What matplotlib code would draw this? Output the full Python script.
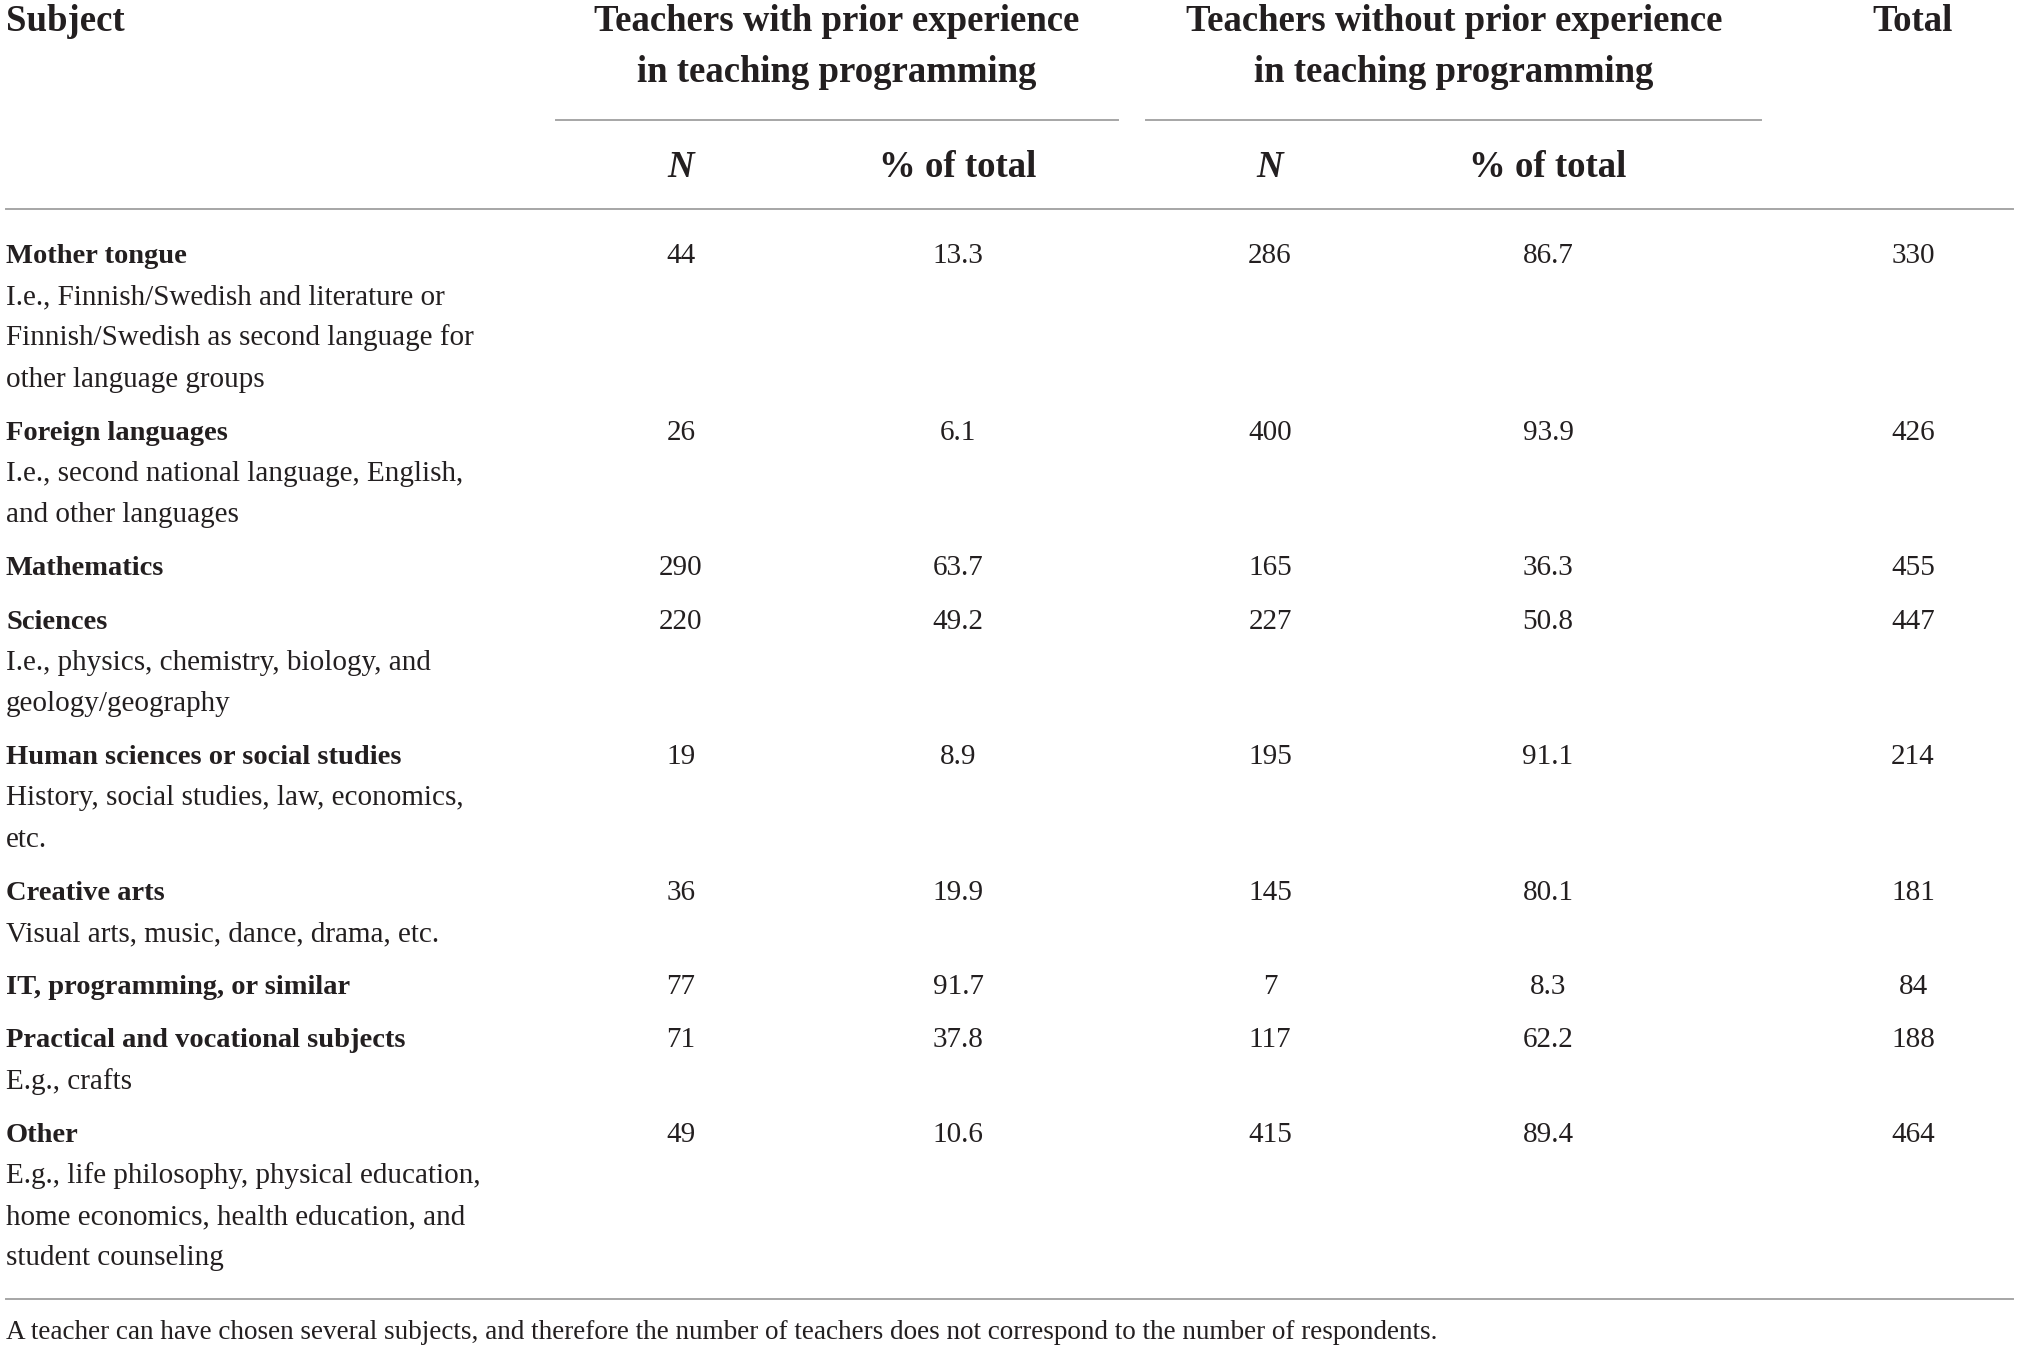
import matplotlib
matplotlib.use("Agg")
import matplotlib.pyplot as plt

plt.rcParams['font.family'] = ['Liberation Serif', 'DejaVu Serif']

# table content
subjects = ["Mother tongue", "Foreign languages", "Mathematics", "Sciences",
            "Human sciences or social studies", "Creative arts",
            "IT, programming, or similar", "Practical and vocational subjects", "Other"]
descriptions = [
    "I.e., Finnish/Swedish and literature or\nFinnish/Swedish as second language for\nother language groups",
    "I.e., second national language, English,\nand other languages",
    "",
    "I.e., physics, chemistry, biology, and\ngeology/geography",
    "History, social studies, law, economics,\netc.",
    "Visual arts, music, dance, drama, etc.",
    "",
    "E.g., crafts",
    "E.g., life philosophy, physical education,\nhome economics, health education, and\nstudent counseling",
]
n_with = [44, 26, 290, 220, 19, 36, 77, 71, 49]
pct_with = [13.3, 6.1, 63.7, 49.2, 8.9, 19.9, 91.7, 37.8, 10.6]
n_without = [286, 400, 165, 227, 195, 145, 7, 117, 415]
pct_without = [86.7, 93.9, 36.3, 50.8, 91.1, 80.1, 8.3, 62.2, 89.4]
totals = [330, 426, 455, 447, 214, 181, 84, 188, 464]

group_headers = ["Teachers with prior experience\nin teaching programming",
                 "Teachers without prior experience\nin teaching programming"]
footnote = ("A teacher can have chosen several subjects, and therefore the number "
            "of teachers does not correspond to the number of respondents.")

W, H = 2019, 1352
fig = plt.figure(figsize=(W / 100, H / 100), dpi=100)
ax = fig.add_axes([0, 0, 1, 1])
ax.set_xlim(0, W)
ax.set_ylim(H, 0)
ax.axis("off")

txt = "#231f20"
rule = "#a6a6a6"
body_b = 20.5   # bold subject names
body_r = 21     # regular text and numbers
head = 26.5

# column centres
col_n1, col_p1, col_n2, col_p2, col_tot = 681, 958, 1270, 1548, 1913
grp1, grp2 = 837, 1454

# header
ax.text(6, 31, "Subject", fontsize=head, fontweight="bold", color=txt, va="baseline")
for cx, h in zip([grp1, grp2], group_headers):
    for i, line in enumerate(h.split("\n")):
        ax.text(cx, 31 + i * 51.5, line, fontsize=head, fontweight="bold",
                color=txt, ha="center", va="baseline")
ax.text(col_tot, 31, "Total", fontsize=head, fontweight="bold", color=txt,
        ha="center", va="baseline")
ax.plot([556, 1118], [120, 120], color=rule, lw=1.4)
ax.plot([1146, 1761], [120, 120], color=rule, lw=1.4)
for cx in [col_n1, col_n2]:
    ax.text(cx, 177, "N", fontsize=head, fontweight="bold", fontstyle="italic",
            color=txt, ha="center", va="baseline")
for cx in [col_p1, col_p2]:
    ax.text(cx, 177, "% of total", fontsize=head, fontweight="bold",
            color=txt, ha="center", va="baseline")
ax.plot([6, 2013], [209, 209], color=rule, lw=1.4)

# body rows
lh = 41.2
y = 254
for k in range(len(subjects)):
    base = y + 9
    ax.text(6, base, subjects[k], fontsize=body_b, fontweight="bold", color=txt, va="baseline")
    desc = descriptions[k].split("\n") if descriptions[k] else []
    for j, line in enumerate(desc):
        ax.text(6, base + (j + 1) * lh, line, fontsize=body_r, color=txt, va="baseline")
    vals = [str(n_with[k]), f"{pct_with[k]:.1f}", str(n_without[k]),
            f"{pct_without[k]:.1f}", str(totals[k])]
    for cx, v in zip([col_n1, col_p1, col_n2, col_p2, col_tot], vals):
        ax.text(cx, base, v, fontsize=body_r, color=txt, ha="center", va="baseline")
    y += (1 + len(desc)) * lh + 12

ax.plot([6, 2013], [1299, 1299], color=rule, lw=1.4)
ax.text(6, 1339, footnote, fontsize=19.5, color=txt, va="baseline")

fig.savefig("out.png", dpi=100)
